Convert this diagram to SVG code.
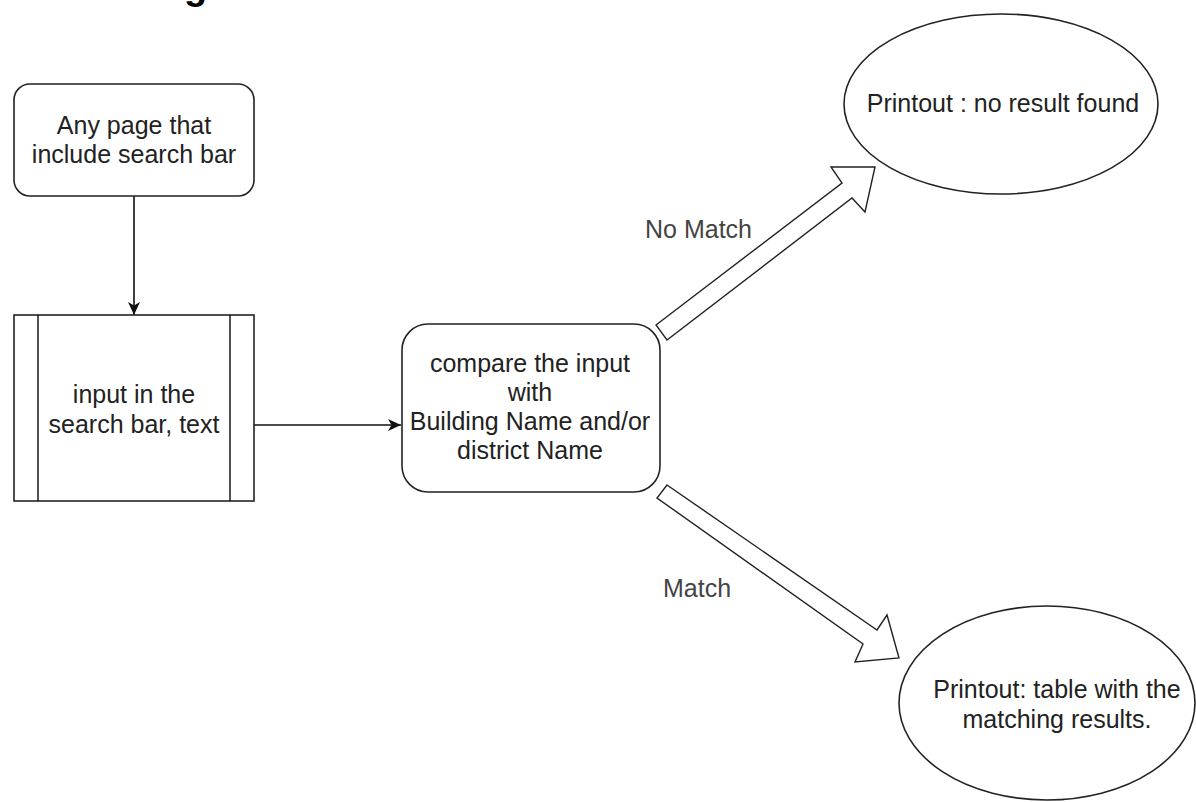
<svg xmlns="http://www.w3.org/2000/svg" width="1196" height="802" viewBox="0 0 1196 802">
<style>
.shape{fill:#fff;stroke:#222;stroke-width:1.6}
.t{font-family:"Liberation Sans",Arial,sans-serif;font-size:25px;fill:#222;text-anchor:middle}
.lbl{font-family:"Liberation Sans",Arial,sans-serif;font-size:25px;fill:#444}
.edge{fill:none;stroke:#111;stroke-width:1.6}
.block{fill:#fff;stroke:#222;stroke-width:1.4;stroke-linejoin:miter}
</style>
<defs>
<marker id="arr" markerWidth="14" markerHeight="12" refX="13" refY="6" orient="auto" markerUnits="userSpaceOnUse">
<path d="M0,0 L13,6 L0,12 L3.5,6 z" fill="#111"/>
</marker>
</defs>
<rect width="1196" height="802" fill="#fff"/>
<text x="184" y="-1" style="font-family:'Liberation Sans',Arial,sans-serif;font-size:38px;font-weight:bold;fill:#000">g</text>

<g id="connectors">
<line class="edge" x1="134" y1="196" x2="134" y2="315" marker-end="url(#arr)"/>
<line class="edge" x1="254" y1="425" x2="401" y2="425" marker-end="url(#arr)"/>
<polygon class="block" points="656,325 842,183 831,167 875,167 865,212 852,198 667,340"/>
<polygon class="block" points="667,485 877,630 887,615 899,658 855,662 863,644 657,498"/>
<text class="lbl" x="645" y="238">No Match</text>
<text class="lbl" x="663" y="597">Match</text>
</g>

<g id="start">
<rect class="shape" x="14" y="84" width="240" height="112" rx="16" ry="16"/>
<text class="t" x="134" y="134">Any page that</text>
<text class="t" x="134" y="163">include search bar</text>
</g>

<g id="input">
<rect class="shape" x="14" y="315" width="240" height="186"/>
<line class="shape" x1="38" y1="315" x2="38" y2="501"/>
<line class="shape" x1="230" y1="315" x2="230" y2="501"/>
<text class="t" x="134" y="403">input in the</text>
<text class="t" x="134" y="433">search bar, text</text>
</g>

<g id="compare">
<rect class="shape" x="402" y="324" width="258" height="168" rx="26" ry="26"/>
<text class="t" x="530" y="372">compare the input</text>
<text class="t" x="530" y="401">with</text>
<text class="t" x="530" y="430">Building Name and/or</text>
<text class="t" x="530" y="459">district Name</text>
</g>

<g id="nomatch">
<ellipse class="shape" cx="1001" cy="104" rx="157" ry="90"/>
<text class="t" x="1003" y="112">Printout : no result found</text>
</g>

<g id="match">
<ellipse class="shape" cx="1047" cy="703" rx="148" ry="97"/>
<text class="t" x="1057" y="698">Printout: table with the</text>
<text class="t" x="1057" y="728">matching results.</text>
</g>
</svg>
